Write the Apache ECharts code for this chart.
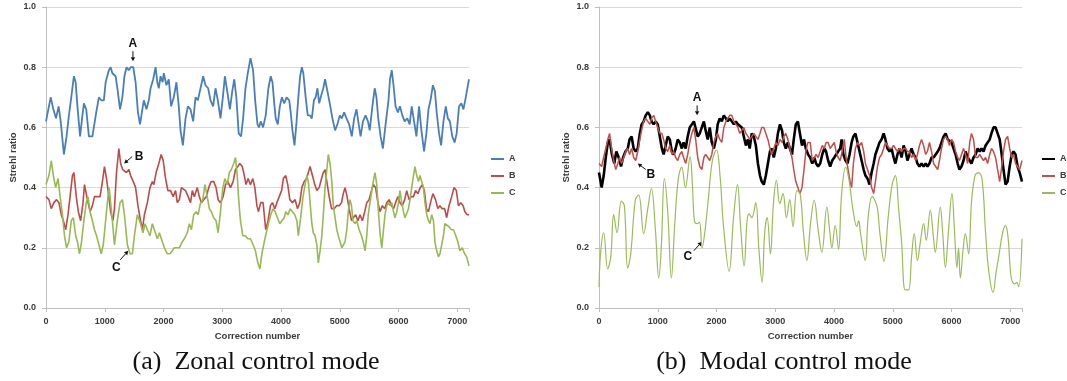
<!DOCTYPE html>
<html>
<head>
<meta charset="utf-8">
<title>Strehl ratio vs correction number</title>
<script src="https://cdn.jsdelivr.net/npm/echarts@6/dist/echarts.min.js"></script>
<style>
  html, body { margin: 0; padding: 0; background: #ffffff; }
  #chart { width: 1067px; height: 381px; }
</style>
</head>
<body>
<div id="chart"></div>
<script>
// Strehl ratio traces, [correction number, Strehl ratio]

// (a) Zonal control mode
const zonalA = [[0,0.62],[80,0.70],[125,0.66],[170,0.63],[215,0.67],[250,0.62],[305,0.51],[350,0.57],[390,0.64],[430,0.70],[475,0.77],[505,0.75],[535,0.67],[580,0.57],[620,0.64],[645,0.68],[685,0.66],[730,0.57],[790,0.57],[815,0.57],[855,0.65],[900,0.70],[940,0.69],[985,0.69],[1015,0.75],[1070,0.79],[1100,0.80],[1130,0.78],[1155,0.78],[1185,0.77],[1215,0.73],[1260,0.66],[1300,0.70],[1335,0.77],[1370,0.80],[1410,0.79],[1440,0.80],[1485,0.80],[1525,0.75],[1565,0.65],[1600,0.61],[1640,0.66],[1665,0.69],[1710,0.66],[1750,0.69],[1780,0.73],[1825,0.76],[1865,0.80],[1895,0.75],[1920,0.73],[1950,0.77],[1985,0.75],[2005,0.78],[2050,0.74],[2090,0.76],[2130,0.67],[2175,0.70],[2220,0.75],[2260,0.67],[2290,0.59],[2330,0.54],[2375,0.63],[2415,0.67],[2460,0.66],[2505,0.62],[2545,0.70],[2585,0.69],[2630,0.73],[2675,0.77],[2715,0.74],[2760,0.73],[2800,0.69],[2845,0.67],[2885,0.73],[2925,0.69],[2970,0.63],[3010,0.70],[3045,0.77],[3085,0.72],[3130,0.66],[3170,0.72],[3205,0.76],[3240,0.70],[3280,0.58],[3320,0.57],[3355,0.63],[3395,0.73],[3435,0.78],[3480,0.83],[3525,0.79],[3560,0.69],[3600,0.61],[3625,0.60],[3655,0.62],[3695,0.60],[3740,0.64],[3785,0.73],[3825,0.77],[3855,0.75],[3885,0.68],[3910,0.63],[3945,0.61],[3980,0.67],[4015,0.70],[4055,0.68],[4095,0.70],[4140,0.69],[4165,0.65],[4195,0.59],[4230,0.54],[4265,0.62],[4295,0.70],[4325,0.77],[4355,0.80],[4380,0.78],[4420,0.70],[4455,0.64],[4490,0.64],[4525,0.63],[4560,0.69],[4590,0.70],[4620,0.73],[4650,0.68],[4690,0.71],[4720,0.73],[4750,0.76],[4790,0.72],[4830,0.68],[4875,0.63],[4920,0.59],[4960,0.61],[5000,0.64],[5035,0.63],[5075,0.65],[5115,0.63],[5160,0.61],[5205,0.57],[5245,0.63],[5285,0.66],[5315,0.62],[5355,0.57],[5395,0.62],[5440,0.64],[5480,0.62],[5510,0.59],[5555,0.67],[5595,0.73],[5625,0.70],[5655,0.63],[5695,0.57],[5735,0.53],[5780,0.61],[5830,0.69],[5855,0.76],[5885,0.79],[5915,0.74],[5950,0.67],[5990,0.65],[6025,0.67],[6065,0.64],[6105,0.62],[6150,0.63],[6190,0.61],[6225,0.67],[6265,0.62],[6305,0.57],[6350,0.67],[6390,0.59],[6435,0.52],[6475,0.58],[6510,0.66],[6545,0.69],[6585,0.74],[6620,0.72],[6650,0.65],[6690,0.58],[6725,0.54],[6765,0.62],[6805,0.67],[6840,0.63],[6875,0.62],[6915,0.57],[6955,0.55],[6990,0.58],[7030,0.67],[7070,0.68],[7105,0.66],[7145,0.70],[7200,0.76]];

const zonalB = [[0,0.37],[50,0.36],[90,0.33],[135,0.35],[180,0.36],[220,0.35],[260,0.31],[295,0.29],[335,0.26],[375,0.31],[410,0.37],[450,0.44],[475,0.45],[515,0.37],[550,0.32],[590,0.29],[630,0.35],[655,0.41],[705,0.36],[750,0.32],[790,0.34],[825,0.37],[875,0.37],[920,0.37],[960,0.42],[995,0.47],[1030,0.43],[1070,0.37],[1100,0.32],[1140,0.29],[1165,0.33],[1200,0.45],[1240,0.53],[1270,0.48],[1305,0.46],[1335,0.46],[1370,0.45],[1410,0.46],[1440,0.44],[1485,0.42],[1525,0.40],[1565,0.34],[1600,0.30],[1640,0.26],[1675,0.31],[1725,0.35],[1770,0.40],[1810,0.42],[1835,0.41],[1875,0.45],[1920,0.48],[1960,0.51],[1995,0.49],[2035,0.43],[2075,0.39],[2120,0.39],[2165,0.37],[2205,0.39],[2235,0.35],[2270,0.36],[2305,0.40],[2335,0.40],[2375,0.39],[2420,0.37],[2460,0.35],[2490,0.39],[2525,0.37],[2575,0.40],[2610,0.37],[2645,0.35],[2685,0.36],[2730,0.37],[2770,0.40],[2810,0.42],[2855,0.42],[2895,0.40],[2930,0.36],[2970,0.35],[3015,0.37],[3055,0.41],[3095,0.42],[3140,0.40],[3185,0.42],[3225,0.46],[3265,0.47],[3300,0.48],[3340,0.47],[3365,0.45],[3405,0.41],[3440,0.43],[3480,0.41],[3520,0.43],[3555,0.40],[3590,0.34],[3615,0.32],[3655,0.35],[3695,0.35],[3740,0.26],[3780,0.29],[3820,0.34],[3855,0.35],[3895,0.33],[3930,0.35],[3970,0.37],[4010,0.39],[4040,0.43],[4080,0.44],[4115,0.41],[4150,0.36],[4195,0.35],[4240,0.36],[4280,0.33],[4320,0.35],[4355,0.40],[4395,0.42],[4435,0.43],[4465,0.45],[4495,0.47],[4535,0.44],[4575,0.41],[4610,0.39],[4650,0.40],[4690,0.43],[4720,0.45],[4750,0.46],[4780,0.42],[4820,0.37],[4860,0.33],[4905,0.33],[4945,0.34],[4990,0.34],[5030,0.35],[5060,0.38],[5090,0.40],[5125,0.37],[5160,0.33],[5200,0.29],[5230,0.30],[5270,0.31],[5310,0.29],[5345,0.31],[5385,0.29],[5425,0.32],[5460,0.35],[5500,0.36],[5540,0.39],[5570,0.41],[5610,0.40],[5650,0.35],[5685,0.32],[5725,0.34],[5765,0.33],[5800,0.35],[5840,0.36],[5880,0.34],[5915,0.33],[5950,0.35],[5990,0.37],[6025,0.35],[6065,0.34],[6105,0.36],[6140,0.39],[6180,0.36],[6220,0.37],[6255,0.37],[6290,0.39],[6330,0.38],[6370,0.40],[6405,0.41],[6440,0.39],[6475,0.33],[6510,0.32],[6545,0.35],[6585,0.38],[6630,0.36],[6670,0.33],[6705,0.34],[6745,0.33],[6785,0.33],[6820,0.30],[6860,0.34],[6905,0.37],[6945,0.40],[6985,0.39],[7020,0.34],[7060,0.35],[7100,0.34],[7130,0.32],[7170,0.31],[7200,0.31]];

const zonalC = [[0,0.41],[50,0.44],[90,0.49],[125,0.44],[165,0.40],[205,0.43],[240,0.37],[280,0.31],[315,0.24],[350,0.20],[390,0.22],[430,0.29],[465,0.30],[505,0.24],[535,0.22],[570,0.18],[605,0.22],[645,0.29],[685,0.35],[715,0.37],[750,0.32],[790,0.29],[825,0.26],[860,0.24],[900,0.21],[940,0.18],[975,0.21],[1015,0.29],[1055,0.37],[1075,0.40],[1130,0.29],[1165,0.21],[1215,0.29],[1260,0.35],[1300,0.36],[1335,0.31],[1385,0.21],[1430,0.18],[1470,0.18],[1505,0.24],[1555,0.31],[1610,0.28],[1650,0.25],[1685,0.28],[1725,0.26],[1770,0.24],[1810,0.28],[1845,0.26],[1895,0.23],[1930,0.25],[1980,0.22],[2015,0.20],[2065,0.18],[2110,0.18],[2150,0.19],[2185,0.20],[2235,0.20],[2270,0.20],[2320,0.22],[2355,0.23],[2405,0.25],[2440,0.28],[2475,0.26],[2515,0.31],[2555,0.32],[2590,0.31],[2630,0.35],[2670,0.36],[2705,0.41],[2745,0.37],[2780,0.33],[2815,0.32],[2855,0.30],[2895,0.29],[2930,0.25],[2970,0.32],[3010,0.40],[3045,0.43],[3085,0.41],[3120,0.45],[3155,0.46],[3195,0.48],[3225,0.50],[3255,0.44],[3280,0.36],[3310,0.29],[3350,0.24],[3395,0.24],[3435,0.23],[3480,0.23],[3525,0.21],[3565,0.19],[3605,0.15],[3640,0.13],[3675,0.18],[3715,0.22],[3750,0.25],[3785,0.28],[3825,0.31],[3865,0.33],[3900,0.32],[3940,0.30],[3980,0.28],[4015,0.29],[4055,0.30],[4080,0.32],[4120,0.31],[4155,0.33],[4195,0.32],[4235,0.31],[4270,0.29],[4295,0.24],[4335,0.30],[4375,0.37],[4410,0.41],[4440,0.44],[4465,0.42],[4495,0.35],[4525,0.28],[4550,0.25],[4580,0.24],[4610,0.21],[4635,0.15],[4665,0.19],[4695,0.24],[4720,0.31],[4750,0.40],[4780,0.46],[4805,0.51],[4835,0.48],[4865,0.42],[4890,0.34],[4920,0.30],[4950,0.26],[4975,0.24],[5005,0.22],[5035,0.20],[5060,0.20],[5090,0.22],[5120,0.26],[5145,0.32],[5175,0.36],[5200,0.34],[5225,0.29],[5260,0.28],[5290,0.29],[5330,0.26],[5370,0.24],[5400,0.22],[5430,0.19],[5460,0.24],[5485,0.31],[5515,0.35],[5545,0.39],[5570,0.42],[5600,0.45],[5630,0.41],[5655,0.33],[5685,0.25],[5715,0.20],[5740,0.25],[5770,0.31],[5800,0.34],[5830,0.35],[5855,0.34],[5885,0.35],[5915,0.32],[5940,0.30],[5970,0.32],[6000,0.35],[6025,0.39],[6055,0.35],[6085,0.32],[6110,0.30],[6140,0.30],[6170,0.33],[6195,0.36],[6225,0.40],[6255,0.44],[6280,0.47],[6310,0.44],[6340,0.42],[6365,0.44],[6395,0.44],[6425,0.40],[6450,0.35],[6480,0.31],[6510,0.29],[6535,0.28],[6565,0.31],[6595,0.29],[6620,0.22],[6650,0.19],[6680,0.17],[6705,0.18],[6735,0.21],[6765,0.24],[6790,0.28],[6820,0.28],[6860,0.27],[6900,0.26],[6935,0.26],[6975,0.24],[7010,0.22],[7045,0.19],[7085,0.20],[7125,0.18],[7160,0.17],[7200,0.14]];

// (b) Modal control mode
const modalA = [[0,0.45],[45,0.40],[80,0.44],[115,0.50],[150,0.55],[180,0.56],[220,0.51],[260,0.48],[295,0.52],[335,0.50],[375,0.47],[410,0.50],[450,0.52],[490,0.53],[520,0.56],[555,0.57],[590,0.53],[625,0.52],[660,0.53],[695,0.58],[725,0.61],[760,0.62],[795,0.64],[830,0.65],[865,0.64],[895,0.62],[930,0.61],[965,0.62],[1000,0.61],[1035,0.57],[1070,0.53],[1100,0.51],[1135,0.54],[1170,0.57],[1205,0.56],[1240,0.52],[1270,0.51],[1305,0.53],[1340,0.56],[1375,0.55],[1410,0.53],[1440,0.55],[1475,0.53],[1510,0.57],[1545,0.60],[1580,0.61],[1615,0.62],[1645,0.62],[1680,0.57],[1715,0.58],[1750,0.60],[1785,0.62],[1815,0.59],[1850,0.56],[1885,0.60],[1920,0.55],[1955,0.53],[1990,0.56],[2020,0.61],[2055,0.63],[2090,0.62],[2125,0.64],[2160,0.63],[2190,0.62],[2225,0.63],[2260,0.62],[2295,0.61],[2330,0.62],[2365,0.61],[2395,0.61],[2430,0.60],[2465,0.57],[2500,0.54],[2535,0.56],[2565,0.53],[2600,0.58],[2635,0.57],[2670,0.54],[2705,0.48],[2740,0.44],[2770,0.42],[2805,0.41],[2840,0.44],[2875,0.48],[2910,0.52],[2940,0.53],[2975,0.50],[3010,0.53],[3045,0.58],[3080,0.61],[3115,0.59],[3145,0.55],[3180,0.53],[3215,0.55],[3250,0.53],[3285,0.51],[3315,0.56],[3350,0.61],[3385,0.62],[3420,0.58],[3455,0.54],[3490,0.56],[3520,0.53],[3560,0.51],[3595,0.50],[3630,0.48],[3665,0.50],[3695,0.48],[3730,0.47],[3765,0.48],[3800,0.51],[3835,0.53],[3865,0.52],[3900,0.49],[3935,0.47],[3970,0.49],[4005,0.50],[4035,0.50],[4070,0.52],[4105,0.53],[4130,0.56],[4160,0.51],[4195,0.49],[4230,0.48],[4265,0.51],[4300,0.55],[4330,0.57],[4365,0.58],[4400,0.55],[4435,0.52],[4470,0.49],[4505,0.46],[4535,0.44],[4570,0.43],[4605,0.41],[4640,0.45],[4675,0.48],[4705,0.51],[4740,0.53],[4775,0.55],[4810,0.56],[4845,0.58],[4875,0.56],[4910,0.53],[4945,0.52],[4980,0.53],[5015,0.50],[5045,0.48],[5080,0.51],[5115,0.53],[5150,0.50],[5185,0.54],[5220,0.52],[5250,0.49],[5285,0.51],[5320,0.53],[5355,0.51],[5390,0.50],[5420,0.48],[5455,0.47],[5490,0.48],[5525,0.47],[5560,0.48],[5590,0.47],[5625,0.48],[5660,0.50],[5695,0.50],[5730,0.51],[5765,0.52],[5795,0.53],[5830,0.55],[5865,0.57],[5900,0.58],[5935,0.56],[5965,0.56],[6000,0.55],[6035,0.53],[6070,0.51],[6105,0.48],[6135,0.46],[6170,0.47],[6205,0.49],[6240,0.52],[6275,0.50],[6310,0.49],[6340,0.48],[6375,0.50],[6410,0.51],[6445,0.53],[6480,0.52],[6510,0.53],[6545,0.52],[6580,0.54],[6615,0.55],[6650,0.56],[6680,0.58],[6715,0.60],[6750,0.60],[6785,0.58],[6820,0.56],[6855,0.51],[6885,0.46],[6920,0.41],[6955,0.42],[6990,0.47],[7025,0.51],[7055,0.52],[7090,0.51],[7125,0.47],[7160,0.45],[7200,0.42]];

const modalB = [[0,0.48],[45,0.47],[80,0.50],[115,0.53],[150,0.56],[180,0.58],[215,0.53],[250,0.49],[285,0.46],[320,0.48],[350,0.50],[385,0.48],[420,0.50],[455,0.52],[490,0.53],[520,0.51],[555,0.53],[590,0.50],[625,0.49],[660,0.52],[695,0.56],[725,0.59],[760,0.62],[795,0.63],[830,0.62],[865,0.61],[895,0.63],[930,0.64],[965,0.62],[1000,0.60],[1035,0.58],[1070,0.58],[1100,0.56],[1135,0.53],[1170,0.52],[1205,0.54],[1240,0.51],[1270,0.52],[1305,0.50],[1340,0.49],[1375,0.51],[1410,0.52],[1440,0.50],[1475,0.48],[1510,0.51],[1545,0.55],[1580,0.58],[1615,0.60],[1645,0.56],[1680,0.50],[1715,0.47],[1750,0.46],[1785,0.50],[1815,0.51],[1850,0.50],[1885,0.49],[1920,0.51],[1955,0.55],[1990,0.57],[2020,0.58],[2055,0.56],[2090,0.55],[2125,0.60],[2160,0.62],[2190,0.63],[2225,0.64],[2260,0.64],[2295,0.62],[2330,0.61],[2365,0.60],[2395,0.58],[2430,0.59],[2465,0.60],[2500,0.58],[2535,0.57],[2565,0.56],[2600,0.57],[2635,0.58],[2670,0.57],[2705,0.56],[2740,0.58],[2770,0.60],[2805,0.60],[2840,0.58],[2875,0.56],[2910,0.53],[2940,0.51],[2975,0.53],[3010,0.55],[3045,0.54],[3080,0.56],[3115,0.55],[3145,0.57],[3180,0.58],[3215,0.56],[3250,0.53],[3285,0.50],[3315,0.46],[3350,0.42],[3385,0.40],[3420,0.38],[3455,0.40],[3490,0.46],[3520,0.52],[3555,0.55],[3595,0.55],[3630,0.49],[3665,0.50],[3695,0.51],[3730,0.50],[3765,0.52],[3800,0.54],[3835,0.53],[3865,0.55],[3900,0.55],[3935,0.53],[3970,0.54],[4005,0.55],[4035,0.52],[4070,0.50],[4105,0.49],[4140,0.52],[4175,0.56],[4205,0.50],[4240,0.46],[4275,0.42],[4300,0.40],[4330,0.48],[4365,0.53],[4400,0.55],[4435,0.54],[4470,0.55],[4505,0.52],[4535,0.48],[4570,0.46],[4605,0.44],[4640,0.40],[4675,0.38],[4705,0.42],[4740,0.47],[4775,0.50],[4810,0.51],[4845,0.53],[4875,0.55],[4910,0.54],[4945,0.53],[4980,0.53],[5015,0.54],[5045,0.53],[5080,0.52],[5115,0.53],[5150,0.52],[5185,0.53],[5220,0.53],[5250,0.52],[5285,0.52],[5320,0.50],[5355,0.51],[5390,0.49],[5420,0.51],[5455,0.54],[5490,0.56],[5525,0.54],[5560,0.51],[5590,0.52],[5625,0.55],[5660,0.52],[5695,0.48],[5730,0.47],[5765,0.46],[5795,0.49],[5830,0.53],[5865,0.56],[5900,0.57],[5935,0.56],[5965,0.54],[6000,0.56],[6035,0.55],[6070,0.52],[6105,0.50],[6135,0.49],[6170,0.51],[6205,0.53],[6240,0.51],[6275,0.48],[6310,0.55],[6340,0.58],[6375,0.56],[6410,0.50],[6445,0.50],[6480,0.51],[6510,0.50],[6545,0.49],[6580,0.50],[6615,0.48],[6650,0.51],[6680,0.53],[6715,0.52],[6750,0.50],[6785,0.46],[6820,0.42],[6855,0.47],[6885,0.52],[6920,0.56],[6955,0.57],[6990,0.53],[7025,0.50],[7055,0.51],[7090,0.48],[7125,0.47],[7160,0.46],[7200,0.49]];

const modalC = [[0,0.07],[30,0.19],[80,0.25],[148,0.13],[200,0.17],[250,0.31],[307,0.25],[380,0.355],[432,0.34],[488,0.133],[540,0.18],[619,0.36],[676,0.375],[761,0.247],[830,0.33],[892,0.397],[960,0.26],[1017,0.10],[1060,0.20],[1113,0.43],[1170,0.32],[1232,0.10],[1290,0.28],[1350,0.43],[1408,0.468],[1470,0.40],[1550,0.503],[1590,0.41],[1624,0.29],[1670,0.28],[1710,0.285],[1755,0.20],[1800,0.25],[1860,0.36],[1930,0.49],[2000,0.525],[2060,0.44],[2120,0.27],[2215,0.122],[2290,0.30],[2357,0.41],[2410,0.27],[2470,0.14],[2520,0.29],[2555,0.313],[2600,0.30],[2668,0.35],[2720,0.20],[2776,0.085],[2820,0.25],[2862,0.30],[2918,0.18],[2970,0.35],[3020,0.424],[3077,0.347],[3133,0.38],[3190,0.30],[3247,0.36],[3303,0.27],[3370,0.39],[3424,0.38],[3480,0.25],[3538,0.158],[3600,0.28],[3663,0.358],[3730,0.26],[3793,0.185],[3878,0.335],[3930,0.25],[3963,0.20],[4020,0.275],[4077,0.195],[4130,0.38],[4200,0.468],[4260,0.42],[4320,0.33],[4389,0.27],[4420,0.29],[4450,0.25],[4531,0.158],[4582,0.303],[4650,0.37],[4695,0.358],[4740,0.33],[4781,0.248],[4850,0.155],[4923,0.303],[4990,0.41],[5045,0.44],[5100,0.33],[5150,0.22],[5213,0.06],[5270,0.06],[5320,0.17],[5366,0.247],[5420,0.158],[5470,0.22],[5525,0.28],[5570,0.225],[5639,0.325],[5690,0.24],[5724,0.185],[5809,0.335],[5850,0.25],[5895,0.135],[5950,0.26],[6008,0.38],[6050,0.26],[6093,0.135],[6120,0.20],[6150,0.10],[6200,0.20],[6235,0.247],[6292,0.18],[6340,0.35],[6400,0.44],[6456,0.45],[6519,0.43],[6580,0.25],[6633,0.124],[6707,0.052],[6760,0.12],[6803,0.17],[6870,0.25],[6917,0.274],[6960,0.24],[7000,0.13],[7031,0.09],[7080,0.08],[7110,0.085],[7144,0.07],[7200,0.23]];

const seriesNames = ['A', 'B', 'C'];
const captions = ['(a)  Zonal control mode', '(b)  Modal control mode'];
const xTitle = 'Correction number';
const yTitle = 'Strehl ratio';

// Callouts: panel, letter, and the [correction number, Strehl ratio] the arrow points at
const callouts = [
  { panel: 0, text: 'A', at: [1480, 0.82] },
  { panel: 0, text: 'B', at: [1330, 0.48] },
  { panel: 0, text: 'C', at: [1400, 0.19] },
  { panel: 1, text: 'A', at: [1670, 0.64] },
  { panel: 1, text: 'B', at: [660, 0.48] },
  { panel: 1, text: 'C', at: [1750, 0.22] }
];
// Arrow tail and letter offsets from the arrow tip, in pixels
const calloutLayout = [
  { tail: [0, -10], label: [0, -17] },
  { tail: [8, -7], label: [15, -7] },
  { tail: [-8, 9], label: [-12, 17] },
  { tail: [0, -10], label: [0, -18] },
  { tail: [8, 6], label: [13, 11] },
  { tail: [-8, 9], label: [-14, 15] }
];

const colorsZonal = ['#4A7EBB', '#BE4B48', '#98B954'];
const colorsModal = ['#000000', '#C0504D', '#9BBB59'];

const tickFont = { fontFamily: 'Liberation Sans', fontWeight: 'bold', fontSize: 9, color: '#3a3a3a' };
const chart = echarts.init(document.getElementById('chart'), null, { renderer: 'canvas' });

function makeXAxis(gi) {
  return {
    gridIndex: gi, type: 'value', min: 0, max: 7200, interval: 1000,
    name: xTitle, nameLocation: 'middle', nameGap: 23,
    nameTextStyle: { fontFamily: 'Liberation Sans', fontWeight: 'bold', fontSize: 9.5, color: '#3a3a3a' },
    axisLine: { show: true, lineStyle: { color: '#BFBFBF', width: 1 } },
    axisTick: { show: true, length: 4, lineStyle: { color: '#BFBFBF' } },
    axisLabel: Object.assign({ margin: 9, formatter: v => (v % 1000 === 0 ? String(v) : '') }, tickFont),
    splitLine: { show: false }
  };
}
function makeYAxis(gi) {
  return {
    gridIndex: gi, type: 'value', min: 0, max: 1, interval: 0.2,
    name: yTitle, nameLocation: 'middle', nameGap: 28, nameRotate: 90,
    nameTextStyle: { fontFamily: 'Liberation Sans', fontWeight: 'bold', fontSize: 9.5, color: '#3a3a3a' },
    axisLine: { show: true, lineStyle: { color: '#BFBFBF', width: 1 } },
    axisTick: { show: true, length: 4, lineStyle: { color: '#BFBFBF' } },
    axisLabel: Object.assign({ margin: 10, formatter: v => v.toFixed(1) }, tickFont),
    splitLine: { show: true, lineStyle: { color: '#D9D9D9', width: 1 } }
  };
}
function makeLine(name, data, gi, color, width, smooth) {
  return {
    name, type: 'line', xAxisIndex: gi, yAxisIndex: gi, data,
    showSymbol: false, symbol: 'none', smooth: smooth || false,
    lineStyle: { color, width }, itemStyle: { color },
    emphasis: { disabled: true }, animation: false
  };
}
function makeLegend(left, colors) {
  return {
    orient: 'vertical', left, top: 153, itemWidth: 13, itemHeight: 2, itemGap: 5,
    icon: 'rect', selectedMode: false, padding: 0,
    textStyle: { fontFamily: 'Liberation Sans', fontWeight: 'bold', fontSize: 9, color: '#3a3a3a', lineHeight: 12 },
    data: seriesNames.map((n, i) => ({ name: n, itemStyle: { color: colors[i] } }))
  };
}

chart.setOption({
  animation: false,
  backgroundColor: '#ffffff',
  grid: [
    { left: 46, top: 7, width: 423, height: 301 },
    { left: 599, top: 7, width: 423, height: 301 }
  ],
  xAxis: [makeXAxis(0), makeXAxis(1)],
  yAxis: [makeYAxis(0), makeYAxis(1)],
  legend: [makeLegend(491, colorsZonal), makeLegend(1042, colorsModal)],
  series: [
    makeLine('A', zonalA, 0, colorsZonal[0], 1.8),
    makeLine('B', zonalB, 0, colorsZonal[1], 1.6),
    makeLine('C', zonalC, 0, colorsZonal[2], 1.6),
    makeLine('A', modalA, 1, colorsModal[0], 2.6),
    makeLine('B', modalB, 1, colorsModal[1], 1.5),
    makeLine('C', modalC, 1, colorsModal[2], 1.2, 0.4)
  ]
});

// Panel captions and the lettered callout arrows
const graphics = [];
captions.forEach((t, i) => {
  graphics.push({
    type: 'text', x: i === 0 ? 256 : 784, y: 362,
    style: { text: t, font: '26px "Liberation Serif"', fill: '#111', align: 'center', verticalAlign: 'middle' }
  });
});
callouts.forEach((c, i) => {
  const tip = chart.convertToPixel({ gridIndex: c.panel }, c.at);
  const lay = calloutLayout[i];
  const tail = [tip[0] + lay.tail[0], tip[1] + lay.tail[1]];
  const dx = tip[0] - tail[0], dy = tip[1] - tail[1];
  const len = Math.hypot(dx, dy) || 1;
  const ux = dx / len, uy = dy / len;
  const hl = 4, hw = 2.2;
  graphics.push({ type: 'line', shape: { x1: tail[0], y1: tail[1], x2: tip[0] - ux * hl, y2: tip[1] - uy * hl }, style: { stroke: '#111', lineWidth: 1 } });
  graphics.push({ type: 'polygon', shape: { points: [
    [tip[0], tip[1]],
    [tip[0] - ux * hl - uy * hw, tip[1] - uy * hl + ux * hw],
    [tip[0] - ux * hl + uy * hw, tip[1] - uy * hl - ux * hw]
  ] }, style: { fill: '#111' } });
  graphics.push({ type: 'text', x: tip[0] + lay.label[0], y: tip[1] + lay.label[1],
    style: { text: c.text, font: 'bold 12px "Liberation Sans"', fill: '#111', align: 'center', verticalAlign: 'middle' } });
});
chart.setOption({ graphic: graphics });
</script>
</body>
</html>
